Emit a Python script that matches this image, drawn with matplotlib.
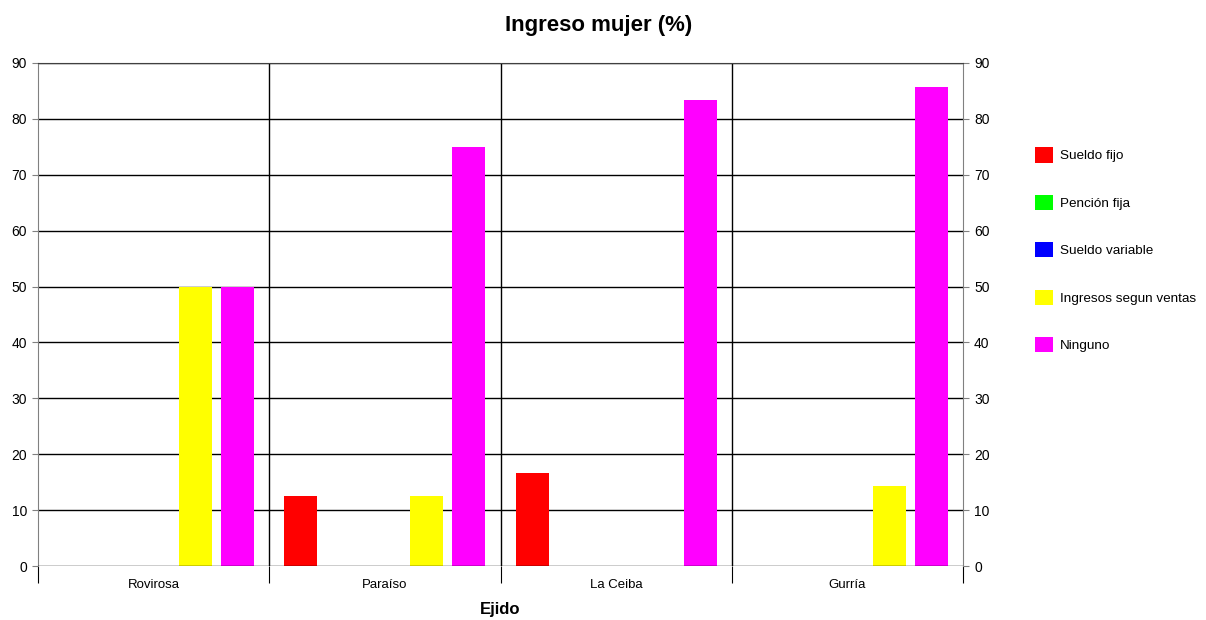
import matplotlib
matplotlib.use("Agg")
import matplotlib.pyplot as plt
import numpy as np
from matplotlib.patches import Patch

categories = ["Rovirosa", "Paraíso", "La Ceiba", "Gurría"]
series_names = ["Sueldo fijo", "Pención fija", "Sueldo variable", "Ingresos segun ventas", "Ninguno"]
sueldo_fijo = [0, 12.5, 16.67, 0]
pencion_fija = [0, 0, 0, 0]
sueldo_variable = [0, 0, 0, 0]
ingresos_ventas = [50, 12.5, 0, 14.29]
ninguno = [50, 75, 83.33, 85.71]
colors = ["#FF0000", "#00FF00", "#0000FF", "#FFFF00", "#FF00FF"]
yticks = [0, 10, 20, 30, 40, 50, 60, 70, 80, 90]

plt.rcParams['font.family'] = ['Liberation Sans', 'DejaVu Sans']

fig = plt.figure(figsize=(12.06, 6.2), dpi=100)
ax = fig.add_axes([38/1206, 1-566/620, (963-38)/1206, (566-63)/620])

data = [sueldo_fijo, pencion_fija, sueldo_variable, ingresos_ventas, ninguno]
x = np.arange(len(categories))
step = 42/231
width = 33/231
for i, (vals, c) in enumerate(zip(data, colors)):
    ax.bar(x + (i-2)*step, vals, width=width, color=c, zorder=3, linewidth=0)

ax.set_xlim(-0.5, 3.5)
ax.set_ylim(0, 90)
ax.set_yticks(yticks)
ax.tick_params(axis='y', labelsize=10, length=4, color='#808080', labelright=True, right=True, direction='out', pad=4)
for y in yticks[1:]:
    ax.axhline(y, color='black', lw=1, zorder=1)
for b in [0.5, 1.5, 2.5]:
    ax.axvline(b, color='black', lw=1, zorder=1)
ax.axhline(0, color='black', lw=1, zorder=4)
ax.set_xticks(np.arange(-0.5, 4.0, 1.0))
ax.set_xticklabels([])
ax.tick_params(axis='x', length=12, color='black', direction='out')
for xi, cat in zip(x, categories):
    ax.text(xi, -2.3, cat, ha='center', va='top', fontsize=9.5, transform=ax.transData)
for s in ['left', 'right']:
    ax.spines[s].set_color('#808080')
ax.spines['top'].set_color('#404040')
ax.spines['bottom'].set_visible(False)

ax.text(1.5, -6.4, "Ejido", ha='center', va='top', fontsize=12, fontweight='bold')
fig.text(599/1206, 1-25/620, "Ingreso mujer (%)", ha='center', va='center', fontsize=16, fontweight='bold')

handles = [Patch(facecolor=c, edgecolor='none') for c in colors]
leg = fig.legend(handles, series_names, loc='upper left', bbox_to_anchor=(1030/1206, 1-142/620),
                 frameon=False, fontsize=9.7, handlelength=1.3, handleheight=1.35,
                 labelspacing=2.4, handletextpad=0.5, borderaxespad=0)

fig.savefig("out.png", dpi=100)
